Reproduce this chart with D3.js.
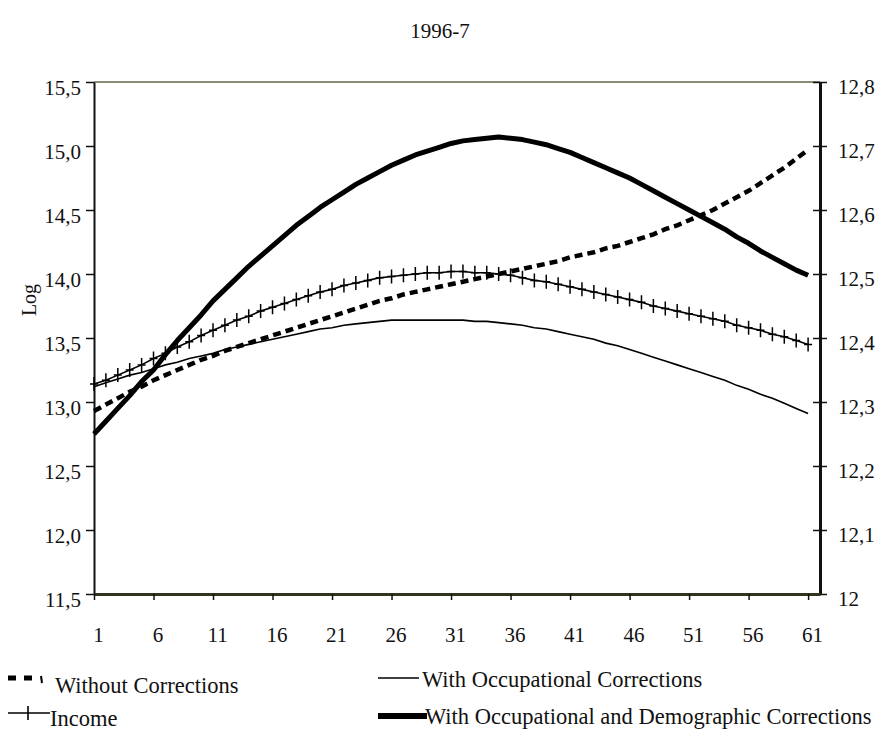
<!DOCTYPE html>
<html>
<head>
<meta charset="utf-8">
<script src="https://cdn.jsdelivr.net/npm/d3@7"></script>
<style>
  body { margin: 0; background: #fff; }
  svg { display: block; }
  text { font-family: "Liberation Serif", "Times New Roman", serif; fill: #111; }
</style>
</head>
<body>
<svg id="chart" width="877" height="731"></svg>
<script>
//data
var ages = d3.range(1, 62);

var withoutCorrections = [12.93,12.98,13.03,13.08,13.12,13.17,13.21,13.25,13.29,13.33,
  13.36,13.40,13.43,13.46,13.49,13.52,13.55,13.58,13.61,13.64,
  13.67,13.70,13.73,13.76,13.79,13.81,13.84,13.86,13.88,13.90,
  13.92,13.94,13.96,13.98,14.00,14.02,14.04,14.06,14.08,14.10,
  14.13,14.15,14.17,14.20,14.22,14.25,14.28,14.31,14.35,14.38,
  14.42,14.46,14.50,14.55,14.60,14.65,14.71,14.77,14.83,14.90,14.97];

var occupational = [13.12,13.15,13.18,13.21,13.23,13.26,13.29,13.31,13.34,13.36,
  13.38,13.41,13.43,13.45,13.47,13.49,13.51,13.53,13.55,13.57,
  13.58,13.60,13.61,13.62,13.63,13.64,13.64,13.64,13.64,13.64,
  13.64,13.64,13.63,13.63,13.62,13.61,13.60,13.58,13.57,13.55,
  13.53,13.51,13.49,13.46,13.44,13.41,13.38,13.35,13.32,13.29,
  13.26,13.23,13.20,13.17,13.13,13.10,13.06,13.03,12.99,12.95,12.91];

var occDemographic = [12.75,12.85,12.95,13.05,13.16,13.25,13.37,13.48,13.58,13.68,
  13.79,13.88,13.97,14.06,14.14,14.22,14.30,14.38,14.45,14.52,
  14.58,14.64,14.70,14.75,14.80,14.85,14.89,14.93,14.96,14.99,
  15.02,15.04,15.05,15.06,15.07,15.06,15.05,15.03,15.01,14.98,
  14.95,14.91,14.87,14.83,14.79,14.75,14.70,14.65,14.60,14.55,
  14.50,14.45,14.40,14.35,14.29,14.24,14.18,14.13,14.08,14.03,13.99];

// income is read on the right axis
var income = [12.328,12.334,12.342,12.350,12.358,12.368,12.376,12.386,12.394,12.404,
  12.412,12.420,12.428,12.434,12.442,12.448,12.454,12.460,12.466,12.472,
  12.476,12.482,12.486,12.490,12.494,12.496,12.498,12.500,12.502,12.502,
  12.504,12.504,12.502,12.502,12.500,12.498,12.494,12.490,12.488,12.484,
  12.480,12.476,12.472,12.468,12.464,12.460,12.456,12.450,12.446,12.442,
  12.438,12.434,12.430,12.426,12.420,12.416,12.412,12.406,12.402,12.396,12.390];

var xTicks = [1,6,11,16,21,26,31,36,41,46,51,56,61];
var leftTicks = [11.5,12,12.5,13,13.5,14,14.5,15,15.5];
var leftLabels = ["11,5","12,0","12,5","13,0","13,5","14,0","14,5","15,0","15,5"];
var rightTicks = [12,12.1,12.2,12.3,12.4,12.5,12.6,12.7,12.8];
var rightLabels = ["12","12,1","12,2","12,3","12,4","12,5","12,6","12,7","12,8"];

//sizes
var plotLeft = 94, plotRight = 820, plotTop = 82, plotBottom = 594;

var svg = d3.select("#chart");

var x = d3.scaleLinear().domain([1, 62]).range([plotLeft, plotRight]);
var yLeft = d3.scaleLinear().domain([11.5, 15.5]).range([plotBottom, plotTop]);
var yRight = d3.scaleLinear().domain([12, 12.8]).range([plotBottom, plotTop]);

//title
svg.append("text")
  .attr("x", 440).attr("y", 38)
  .attr("text-anchor", "middle")
  .style("font-size", "21px")
  .text("1996-7");

//frame top
svg.append("line")
  .attr("x1", plotLeft).attr("x2", plotRight)
  .attr("y1", plotTop).attr("y2", plotTop)
  .attr("stroke", "#8c8c74").attr("stroke-width", 2);

//left axis
var gL = svg.append("g")
  .attr("transform", `translate(${plotLeft},0)`)
  .call(d3.axisLeft(yLeft).tickValues(leftTicks)
    .tickFormat(function(d, i){ return leftLabels[i]; })
    .tickSize(8).tickPadding(5).tickSizeOuter(0));
gL.select(".domain").attr("stroke", "#111").attr("stroke-width", 2);
gL.selectAll(".tick line").attr("stroke", "#111").attr("stroke-width", 1.5);
gL.selectAll(".tick text").attr("y", 6).style("font-size", "21px").attr("fill", "#111");

//right axis, ticks cross the line
var gR = svg.append("g")
  .attr("transform", `translate(${plotRight},0)`)
  .call(d3.axisRight(yRight).tickValues(rightTicks)
    .tickFormat(function(d, i){ return rightLabels[i]; })
    .tickSize(7).tickPadding(11).tickSizeOuter(0));
gR.select(".domain").attr("stroke", "#111").attr("stroke-width", 3);
gR.selectAll(".tick line").attr("x1", -7).attr("stroke", "#111").attr("stroke-width", 1.5);
gR.selectAll(".tick text").attr("y", 5).style("font-size", "21px").attr("fill", "#111");

//bottom axis
var gB = svg.append("g")
  .attr("transform", `translate(0,${plotBottom})`)
  .call(d3.axisBottom(x).tickValues(xTicks)
    .tickSize(6).tickSizeOuter(0));
gB.select(".domain").attr("stroke", "#333322").attr("stroke-width", 3);
gB.selectAll(".tick line").attr("stroke", "#111").attr("stroke-width", 1.5);
gB.selectAll(".tick text").attr("x", 4).attr("y", 33).style("font-size", "21px").attr("fill", "#111");

//y title
svg.append("text")
  .attr("transform", "translate(36,300) rotate(-90)")
  .attr("text-anchor", "middle")
  .style("font-size", "20px")
  .text("Log");

//lines
function lineOn(scale){
  return d3.line()
    .x(function(d, i){ return x(ages[i]); })
    .y(function(d){ return scale(d); });
}

var plot = svg.append("g");

plot.append("path")
  .datum(occupational)
  .attr("d", lineOn(yLeft))
  .attr("fill", "none").attr("stroke", "#000").attr("stroke-width", 1.6);

plot.append("path")
  .datum(income)
  .attr("d", lineOn(yRight))
  .attr("fill", "none").attr("stroke", "#000").attr("stroke-width", 1.6);

plot.selectAll(".cross")
  .data(income)
  .enter()
  .append("path")
  .attr("class", "cross")
  .attr("transform", function(d, i){ return `translate(${x(ages[i])},${yRight(d)})`; })
  .attr("d", "M-4,0H4M0,-7V7")
  .attr("stroke", "#000").attr("stroke-width", 1.5);

plot.append("path")
  .datum(withoutCorrections)
  .attr("d", lineOn(yLeft))
  .attr("fill", "none").attr("stroke", "#000").attr("stroke-width", 4.5)
  .attr("stroke-dasharray", "8,5");

plot.append("path")
  .datum(occDemographic)
  .attr("d", lineOn(yLeft))
  .attr("fill", "none").attr("stroke", "#000").attr("stroke-width", 5)
  .attr("stroke-linejoin", "round");

//legend
var legend = svg.append("g");

legend.append("line")
  .attr("x1", 8).attr("x2", 32).attr("y1", 678).attr("y2", 678)
  .attr("stroke", "#000").attr("stroke-width", 5).attr("stroke-dasharray", "8,8");
legend.append("line")
  .attr("x1", 41).attr("x2", 42).attr("y1", 676).attr("y2", 683)
  .attr("stroke", "#000").attr("stroke-width", 2);
legend.append("text")
  .attr("x", 55).attr("y", 693)
  .style("font-size", "22.5px")
  .text("Without Corrections");

legend.append("line")
  .attr("x1", 378).attr("x2", 419).attr("y1", 678).attr("y2", 678)
  .attr("stroke", "#000").attr("stroke-width", 1.6);
legend.append("text")
  .attr("x", 422).attr("y", 687)
  .style("font-size", "22.5px")
  .text("With Occupational Corrections");

legend.append("line")
  .attr("x1", 8).attr("x2", 50).attr("y1", 713).attr("y2", 713)
  .attr("stroke", "#000").attr("stroke-width", 1.6);
legend.append("line")
  .attr("x1", 28).attr("x2", 28).attr("y1", 706).attr("y2", 720)
  .attr("stroke", "#000").attr("stroke-width", 1.6);
legend.append("text")
  .attr("x", 50).attr("y", 726)
  .style("font-size", "22.5px")
  .text("Income");

legend.append("line")
  .attr("x1", 378).attr("x2", 427).attr("y1", 716).attr("y2", 716)
  .attr("stroke", "#000").attr("stroke-width", 6);
legend.append("text")
  .attr("x", 425).attr("y", 724)
  .style("font-size", "22.5px")
  .text("With Occupational and Demographic Corrections");
</script>
</body>
</html>
